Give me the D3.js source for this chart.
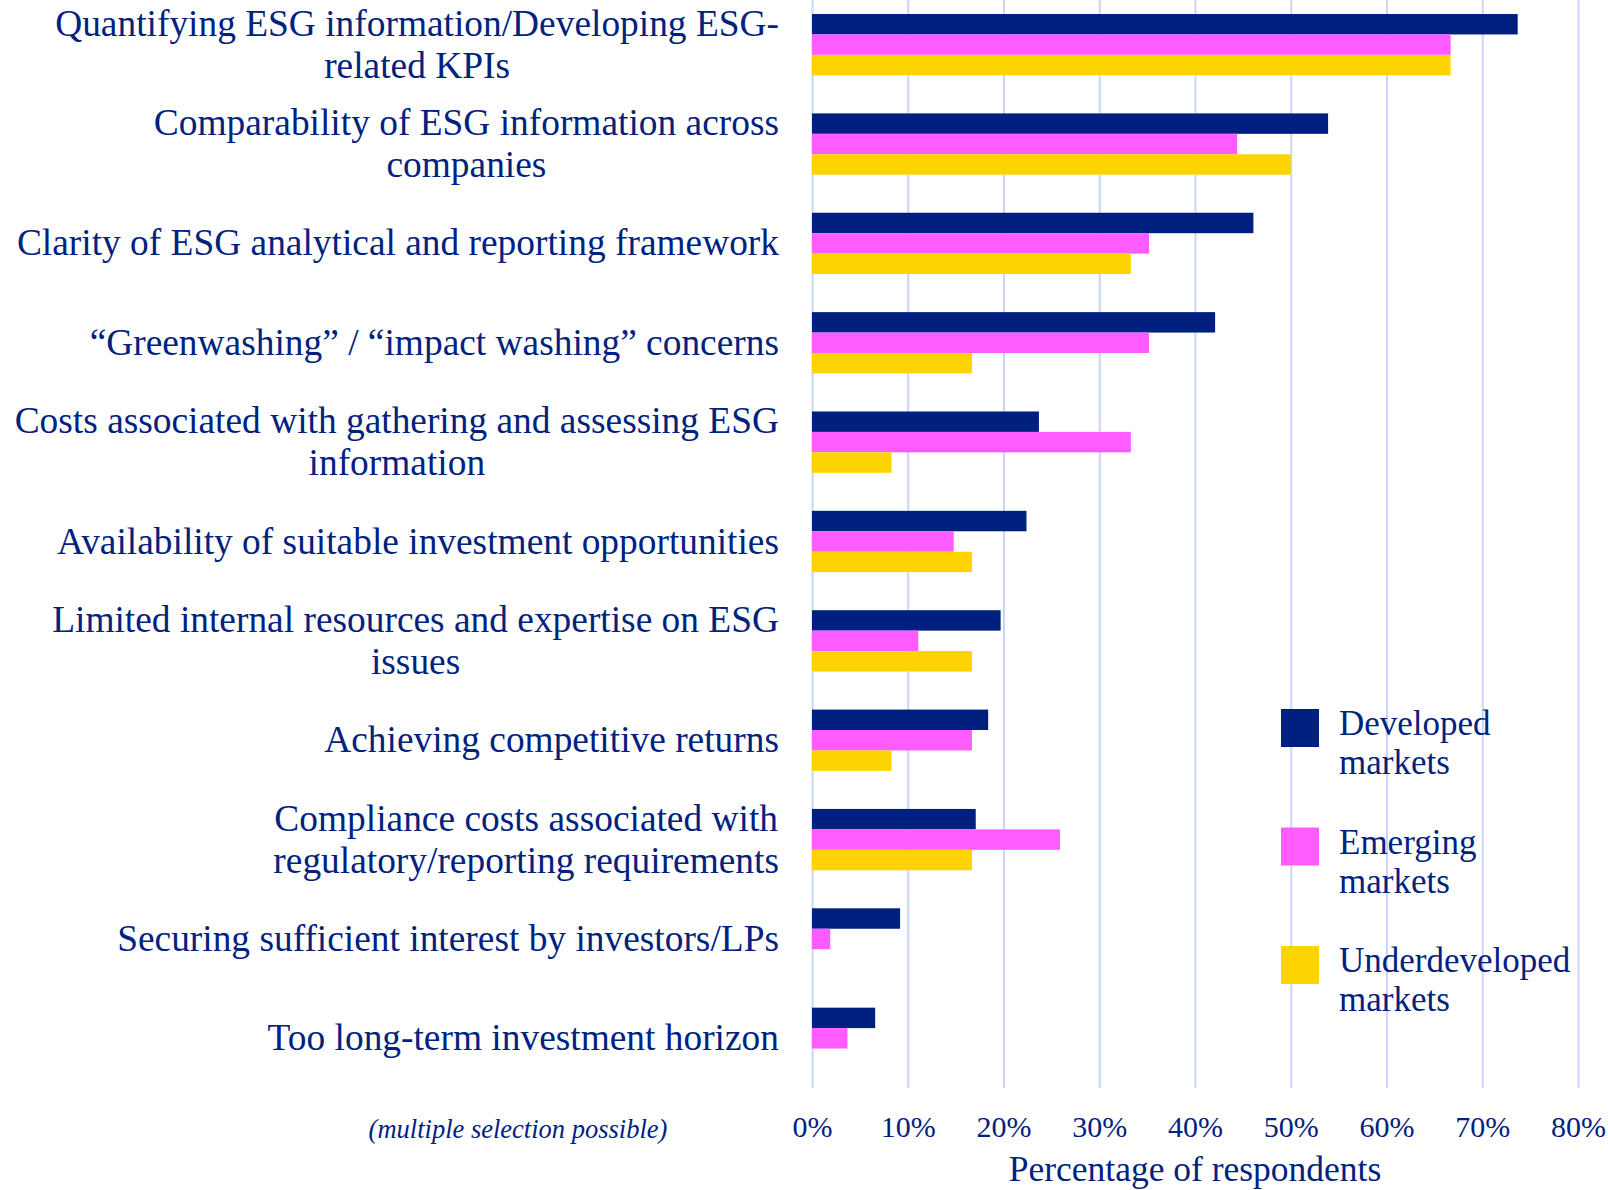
<!DOCTYPE html>
<html>
<head>
<meta charset="utf-8">
<script src="https://cdn.jsdelivr.net/npm/d3@7"></script>
<style>
  body { margin: 0; background: #fff; }
  text { font-family: "Liberation Serif", "Times New Roman", serif; fill: #00227f; }
</style>
</head>
<body>
<script>
// ESG challenges by market type
var categories = [
  'Quantifying ESG information/Developing ESG-\nrelated KPIs',
  'Comparability of ESG information across\ncompanies',
  'Clarity of ESG analytical and reporting framework',
  '\u201cGreenwashing\u201d / \u201cimpact washing\u201d concerns',
  'Costs associated with gathering and assessing ESG\ninformation',
  'Availability of suitable investment opportunities',
  'Limited internal resources and expertise on ESG\nissues',
  'Achieving competitive returns',
  'Compliance costs associated with\nregulatory/reporting requirements',
  'Securing sufficient interest by investors/LPs',
  'Too long-term investment horizon'
];
var developed = [73.7, 53.9, 46.1, 42.1, 23.7, 22.4, 19.7, 18.4, 17.1, 9.2, 6.6];
var emerging = [66.7, 44.4, 35.2, 35.2, 33.3, 14.8, 11.1, 16.7, 25.9, 1.9, 3.7];
var underdeveloped = [66.7, 50.0, 33.3, 16.7, 8.3, 16.7, 16.7, 8.3, 16.7, 0, 0];
var seriesNames = ['Developed\nmarkets', 'Emerging\nmarkets', 'Underdeveloped\nmarkets'];
var seriesColors = ['#002080', '#ff5cff', '#fdd402'];
var tickValues = [0, 10, 20, 30, 40, 50, 60, 70, 80];

var w = 1608;
var h = 1190;
var plotLeft = 812;
var plotRight = 1578;
var plotTop = -5;
var plotBottom = 1088;
var labelRight = 779;

var svg = d3.select('body')
  .append('svg')
  .attr('width', w)
  .attr('height', h);

svg.append('rect').attr('width', w).attr('height', h).attr('fill', '#fff');

var x = d3.scaleLinear().domain([0, 80]).range([plotLeft, plotRight]);

var y = d3.scaleBand()
  .domain(d3.range(categories.length))
  .range([plotTop, plotBottom])
  .paddingInner(0.383)
  .paddingOuter(0.1915);

var series = [developed, emerging, underdeveloped];
var ySub = d3.scaleBand()
  .domain(d3.range(series.length))
  .range([0, y.bandwidth()]);

// gridlines + tick labels
var axis = svg.append('g')
  .attr('transform', 'translate(0,' + plotBottom + ')')
  .call(d3.axisBottom(x)
    .tickValues(tickValues)
    .tickSize(-(plotBottom + 5))
    .tickPadding(28)
    .tickFormat(function(d) { return d + '%'; }));
axis.select('.domain').remove();
axis.selectAll('line')
  .attr('stroke', '#c9d5fa')
  .attr('stroke-width', 2);
axis.selectAll('text')
  .attr('font-family', '"Liberation Serif", serif')
  .attr('font-size', '30px')
  .attr('fill', '#00227f');

// bars
var rows = [];
categories.forEach(function(c, i) {
  series.forEach(function(s, j) {
    rows.push({ cat: i, s: j, v: s[i] });
  });
});

svg.selectAll('rect.bar')
  .data(rows.filter(function(d) { return d.v > 0; }))
  .enter()
  .append('rect')
  .attr('class', 'bar')
  .attr('x', x(0))
  .attr('y', function(d) { return y(d.cat) + ySub(d.s); })
  .attr('width', function(d) { return x(d.v) - x(0); })
  .attr('height', ySub.bandwidth())
  .attr('fill', function(d) { return seriesColors[d.s]; });

// category labels, lines centred within a right-aligned block
var lineGap = 42;
var labels = svg.selectAll('g.cat')
  .data(categories)
  .enter()
  .append('g')
  .attr('class', 'cat');

labels.each(function(c, i) {
  var g = d3.select(this);
  var lines = c.split('\n');
  var mid = y(i) + y.bandwidth() / 2;
  var first = mid - (lines.length - 1) * lineGap / 2 + 12;
  var texts = g.selectAll('text')
    .data(lines)
    .enter()
    .append('text')
    .text(function(d) { return d; })
    .attr('y', function(d, k) { return first + k * lineGap; })
    .attr('font-size', '37.4px')
    .attr('text-anchor', 'middle');
  var maxW = d3.max(texts.nodes(), function(n) { return n.getComputedTextLength(); });
  texts.attr('x', labelRight - maxW / 2);
});

// axis title and note
svg.append('text')
  .text('Percentage of respondents')
  .attr('x', (plotLeft + plotRight) / 2)
  .attr('y', 1181)
  .attr('font-size', '35.5px')
  .attr('text-anchor', 'middle');

svg.append('text')
  .text('(multiple selection possible)')
  .attr('x', 518)
  .attr('y', 1138)
  .attr('font-size', '26.5px')
  .attr('font-style', 'italic')
  .attr('text-anchor', 'middle');

// legend
var legend = svg.selectAll('g.legend')
  .data(seriesNames)
  .enter()
  .append('g')
  .attr('class', 'legend')
  .attr('transform', function(d, i) { return 'translate(1281,' + (709 + i * 118.5) + ')'; });

legend.append('rect')
  .attr('width', 38)
  .attr('height', 38)
  .attr('fill', function(d, i) { return seriesColors[i]; });

legend.append('text')
  .attr('y', 26)
  .attr('font-size', '35px')
  .selectAll('tspan')
  .data(function(d) { return d.split('\n'); })
  .enter()
  .append('tspan')
  .attr('x', 58)
  .attr('dy', function(t, k) { return k === 0 ? 0 : 39; })
  .text(function(t) { return t; });
</script>
</body>
</html>
